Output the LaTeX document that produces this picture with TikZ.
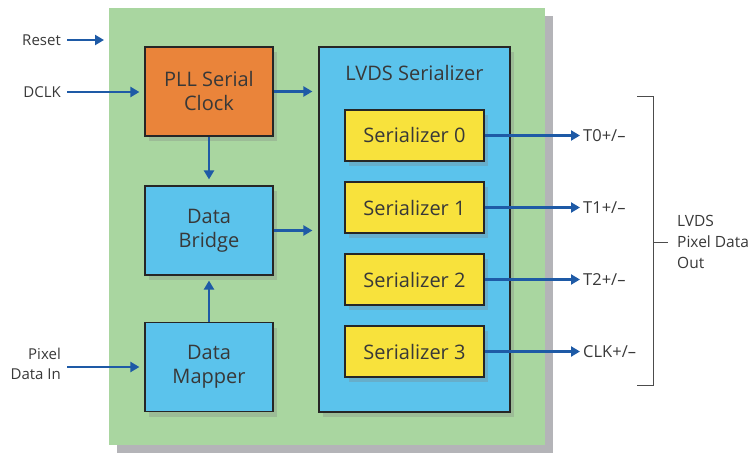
\documentclass[tikz,border=0pt]{standalone}
\usepackage{fontspec}
\setmainfont{Open Sans}
\usetikzlibrary{positioning,shadows,arrows.meta}
\definecolor{boardgreen}{HTML}{A9D6A0}
\definecolor{boardshade}{HTML}{B4B4B8}
\definecolor{blockblue}{HTML}{5BC3EC}
\definecolor{pllorange}{HTML}{EA843A}
\definecolor{seryellow}{HTML}{F8E23C}
\definecolor{wireblue}{HTML}{1E5AA6}
\definecolor{txtgray}{HTML}{383838}
\begin{document}
\begin{tikzpicture}[x=1pt,y=-1pt,
  block/.style={draw=black!85, line width=1.2pt, fill=blockblue, text=txtgray,
    minimum width=128pt, minimum height=89pt, align=center,
    font=\fontsize{20}{24}\selectfont,
    drop shadow={opacity=0.3, shadow xshift=4pt, shadow yshift=-5pt}},
  serbox/.style={block, fill=seryellow, minimum width=139pt, minimum height=51pt},
  lbl/.style={text=txtgray, font=\fontsize{15}{20}\selectfont, inner sep=6pt},
  wire/.style={draw=wireblue, line width=2.8pt, -{Triangle[length=9pt,width=10pt]}}]
\useasboundingbox (0,0) rectangle (751,454);

% board
\fill[boardshade] (117,16) rectangle (553,453);
\fill[boardgreen] (109,8) rectangle (545,445);

% left column
\node[block, fill=pllorange] (pll) at (209,91.5) {PLL Serial\\Clock};
\node[block] (bridge) at (209,230.5) {Data\\Bridge};
\node[block] (mapper) at (209,367) {Data\\Mapper};

% serializer block
\node[block, minimum width=191pt, minimum height=365pt] (lvds) at (414.5,229.5) {};
\node[text=txtgray, font=\fontsize{20}{24}\selectfont] (lvdstitle) at (414.5,73) {LVDS Serializer};
\foreach \i/\name in {0/T0,1/T1,2/T2,3/CLK} {
  \node[serbox] (ser\i) at (414.5,135.5+72*\i) {Serializer \i};
  \node[lbl, anchor=west, inner sep=3pt, font=\fontsize{16.5}{20}\selectfont] (out\i) at (580,135.5+72*\i) {\name+/--};
  \draw[wire] (ser\i) -- (out\i);
}

% inputs
\node[lbl, anchor=east] (reset) at (67,40) {Reset};
\coordinate (resetend) at (104,40);
\node[lbl, anchor=east] (dclk) at (67,92) {DCLK};
\node[lbl, anchor=east, align=right] (pixin) at (67,364) {Pixel\\Data In};

\draw[wire] (reset.east) -- (resetend);
\draw[wire, shorten >=5pt] (dclk.east) -- (dclk.east -| pll.west);
\draw[wire, shorten >=5pt] (pixin.east |- mapper) -- (mapper.west);
\draw[wire, shorten >=6pt] (pll.east) -- (pll.east -| lvds.west);
\draw[wire, shorten >=6pt] (bridge.east) -- (bridge.east -| lvds.west);
\draw[wire, shorten >=6pt] (pll) -- (bridge);
\draw[wire, shorten >=5pt] (mapper) -- (bridge);

% output bracket
\node[lbl, anchor=west, align=left, inner sep=0pt, font=\fontsize{15.5}{21}\selectfont] (lvdsout) at (677,242) {LVDS\\Pixel Data\\Out};
\draw[black!70, line width=1pt] (637,97) -- (653,97) -- (653,385) -- (637,385);
\draw[black!70, line width=1pt] (653,242) -- (668,242);
\end{tikzpicture}
\end{document}
